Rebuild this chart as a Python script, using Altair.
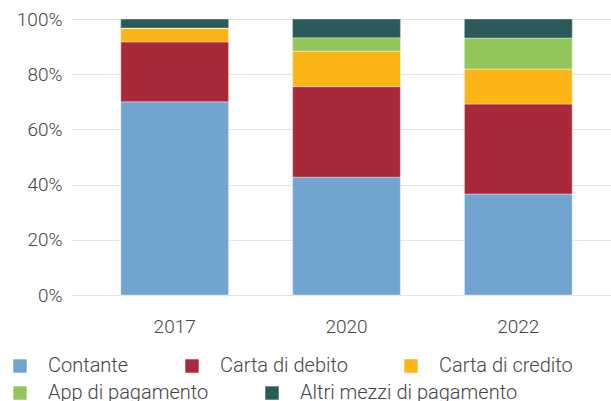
import altair as alt
import pandas as pd

years = ["2017", "2020", "2022"]
methods = ["Contante", "Carta di debito", "Carta di credito", "App di pagamento", "Altri mezzi di pagamento"]
colors = ["#71A5CF", "#A82A3A", "#FBB516", "#92C55A", "#2C5959"]
contante = [70.0, 42.7, 36.6]
debito = [21.7, 32.8, 32.6]
credito = [5.0, 12.9, 12.7]
app = [0.0, 4.8, 11.2]
altri = [3.3, 6.8, 6.9]

series = [contante, debito, credito, app, altri]
rows = []
for i, (m, vals) in enumerate(zip(methods, series)):
    for y, v in zip(years, vals):
        rows.append({"Anno": y, "Metodo": m, "Quota": v, "ord": i})
df = pd.DataFrame(rows)

FONT = "Roboto"
TXT = "#444444"

row1 = methods[:3]
row2 = methods[3:]


def legend(values, y):
    return alt.Legend(title=None, orient="none", legendX=-61, legendY=y, values=values,
                      direction="horizontal", columnPadding=53,
                      symbolType="square", symbolSize=180, symbolStrokeWidth=0, symbolOpacity=1,
                      labelFontSize=20, labelFont=FONT, labelFontWeight=300,
                      labelColor=TXT, labelOffset=18, labelLimit=400)


base = alt.Chart(df).transform_stack(
    stack="Quota", groupby=["Anno"], as_=["y0", "y1"], offset="normalize",
    sort=[alt.SortField("ord", order="ascending")],
)

xenc = alt.X("Anno:N", title=None, sort=years,
             scale=alt.Scale(range=[0, 551], paddingInner=0.373, paddingOuter=0.29),
             axis=alt.Axis(labelAngle=0, ticks=False, domain=False, labelPadding=22,
                           labelFontSize=19, labelColor=TXT, labelFont=FONT, labelFontWeight=300))
yenc = alt.Y("y0:Q", title=None, scale=alt.Scale(domain=[0, 1]),
             axis=alt.Axis(format=".0%", values=[0, 0.2, 0.4, 0.6, 0.8, 1.0], ticks=False, domain=False,
                           labelPadding=9, labelFontSize=19, labelColor=TXT, labelFont=FONT,
                           labelFontWeight=300, gridColor="#e3e3e3", gridWidth=1.2))

barmark = dict(stroke="white", strokeWidth=0.6, strokeOpacity=0.6)

layer_a = base.mark_bar(**barmark).encode(
    x=xenc, y=yenc, y2="y1:Q",
    color=alt.Color("Metodo:N", scale=alt.Scale(domain=methods, range=colors),
                    legend=legend(row1, 337)),
)

layer_b = base.mark_bar(**barmark).transform_filter(
    alt.FieldOneOfPredicate(field="Metodo", oneOf=row2)
).encode(
    x=xenc, y=yenc, y2="y1:Q",
    color=alt.Color("Metodo:N", scale=alt.Scale(domain=row2, range=colors[3:]),
                    legend=legend(row2, 364)),
)

chart = alt.layer(layer_a, layer_b).resolve_scale(color="independent").properties(
    width=540, height=276,
    autosize=alt.AutoSizeParams(type="none"),
    padding={"left": 71, "top": 19, "right": 0, "bottom": 106},
).configure_view(stroke=None)

chart.save("out.html", embed_options={"renderer": "svg", "actions": False})
